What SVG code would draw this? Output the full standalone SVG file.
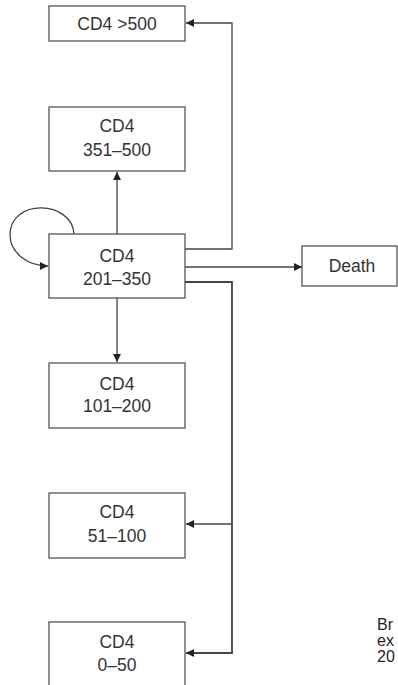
<svg xmlns="http://www.w3.org/2000/svg" width="398" height="685" viewBox="0 0 398 685">
<defs>
<style>
.box{fill:#fff;stroke:#555;stroke-width:1.3}
.t{font-family:"Liberation Sans",Arial,sans-serif;font-size:17.5px;fill:#333;text-anchor:middle}
.n{font-family:"Liberation Sans",Arial,sans-serif;font-size:16px;fill:#222}
.c{fill:none;stroke:#444;stroke-width:1.3}
</style>
<marker id="a" viewBox="0 0 10 10" refX="10" refY="5" markerWidth="9" markerHeight="8" markerUnits="userSpaceOnUse" orient="auto">
<path d="M0,0 L10,5 L0,10 Z" fill="#222"/>
</marker>
</defs>
<rect width="398" height="685" fill="#fff"/>
<g id="connectors">
<path class="c" d="M185,249 H232 V23 H186" marker-end="url(#a)"/>
<path class="c" d="M117,234 V172" marker-end="url(#a)"/>
<path class="c" d="M74,234 C72,200 10,198 10,235 C10,253 28,266 48,266" marker-end="url(#a)"/>
<path class="c" d="M185,267 H302" marker-end="url(#a)"/>
<path class="c" d="M117,298 V362" marker-end="url(#a)"/>
<path class="c" style="stroke-width:1.8" d="M185,282 H232 V653 H186" marker-end="url(#a)"/>
<path class="c" d="M232,524 H186" marker-end="url(#a)"/>
</g>
<g id="n500">
<rect class="box" x="49" y="6" width="136" height="35"/>
<text class="t" x="117" y="30">CD4 &gt;500</text>
</g>
<g id="n351">
<rect class="box" x="49" y="107" width="136" height="64"/>
<text class="t" x="117" y="132">CD4</text>
<text class="t" x="117" y="156">351–500</text>
</g>
<g id="n201">
<rect class="box" x="49" y="234" width="136" height="64"/>
<text class="t" x="117" y="262">CD4</text>
<text class="t" x="117" y="285">201–350</text>
</g>
<g id="death">
<rect class="box" x="302" y="246" width="95" height="40"/>
<text class="t" x="352" y="272">Death</text>
</g>
<g id="n101">
<rect class="box" x="49" y="363" width="136" height="65"/>
<text class="t" x="117" y="390">CD4</text>
<text class="t" x="117" y="412">101–200</text>
</g>
<g id="n51">
<rect class="box" x="49" y="493" width="136" height="65"/>
<text class="t" x="117" y="518">CD4</text>
<text class="t" x="117" y="542">51–100</text>
</g>
<g id="n0">
<rect class="box" x="49" y="622" width="136" height="70"/>
<text class="t" x="117" y="648">CD4</text>
<text class="t" x="117" y="671">0–50</text>
</g>
<g id="note">
<text class="n" x="377" y="630">Br</text>
<text class="n" x="377" y="646">ex</text>
<text class="n" x="377" y="662">20</text>
</g>
</svg>
